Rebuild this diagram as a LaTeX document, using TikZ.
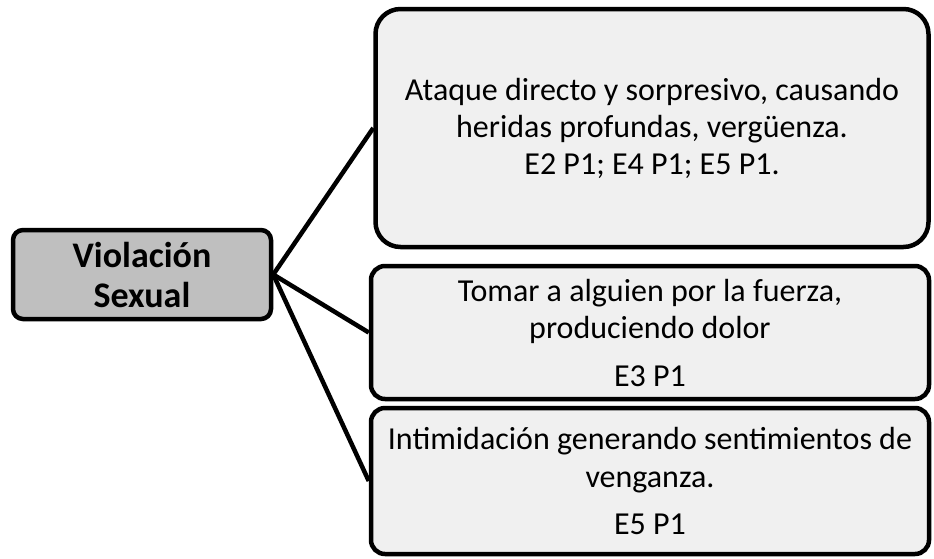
\documentclass[tikz,border=0pt]{standalone}
\usepackage{fontspec}
\setmainfont{Carlito}
\usetikzlibrary{positioning}
\definecolor{raizgris}{gray}{0.75}
\definecolor{hojagris}{gray}{0.94}
\tikzset{
  raiz/.style = {draw=black, line width=4.5pt, fill=raizgris, rounded corners=10pt,
                 align=center, font=\fontsize{36}{40}\selectfont\bfseries, inner sep=0pt},
  hoja/.style = {draw=black, line width=4.5pt, fill=hojagris, rounded corners=14pt,
                 align=center, font=\fontsize{32}{37.5}\selectfont, inner sep=0pt},
  rama/.style = {draw=black, line width=4.5pt}
}
\begin{document}
\begin{tikzpicture}[x=1pt, y=-1pt]
  \useasboundingbox (0,0) rectangle (934,558);

  \node[raiz, minimum width=258pt, minimum height=89pt] (violacion) at (142,274.5)
    {Violación\\Sexual};

  \node[hoja, rounded corners=25pt, minimum width=553pt, minimum height=238pt] (ataque) at (652,128)
    {Ataque directo y sorpresivo, causando\\heridas profundas, vergüenza.\\[-1pt] E2 P1; E4 P1; E5 P1.};

  \node[hoja, minimum width=558pt, minimum height=133pt] (tomar) at (650,332.5)
    {Tomar a alguien por la fuerza,\\produciendo dolor\\[10pt] E3 P1};

  \node[hoja, minimum width=558pt, minimum height=146pt] (intimidacion) at (650,481)
    {Intimidación generando sentimientos de\\venganza.\\[10pt] E5 P1};

  \draw[rama] (violacion.east) -- (ataque.west);
  \draw[rama] (violacion.east) -- (tomar.west);
  \draw[rama] (violacion.east) -- (intimidacion.west);
\end{tikzpicture}
\end{document}
